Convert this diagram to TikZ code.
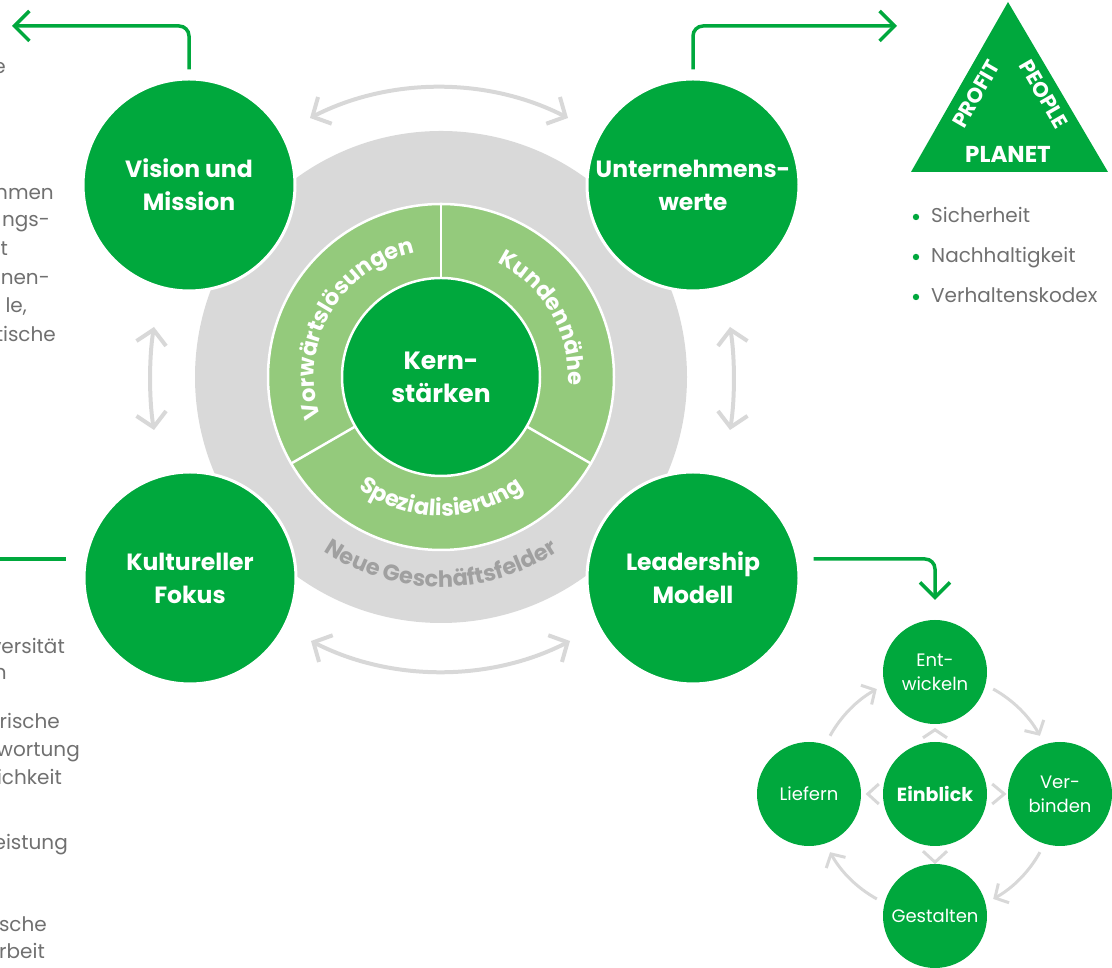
\documentclass[tikz,border=0pt]{standalone}
\usepackage{fontspec}
\setmainfont{Poppins}
\usetikzlibrary{arrows.meta,decorations.text}
\definecolor{kgreen}{RGB}{0,168,61}
\definecolor{klight}{RGB}{148,202,124}
\definecolor{kring}{RGB}{217,217,217}
\definecolor{karrow}{RGB}{216,216,216}
\definecolor{kgraytext}{RGB}{160,160,160}
\definecolor{kbody}{RGB}{112,112,112}
\begin{document}
\begin{tikzpicture}[x=1pt,y=1pt,
  bigcircle/.style={circle, fill=kgreen, draw=white, line width=3pt, minimum size=212pt, inner sep=0pt, text=white, font=\fontsize{23.5}{33}\selectfont\bfseries, align=center},
  smallcircle/.style={circle, fill=kgreen, minimum size=104pt, inner sep=0pt, text=white, font=\fontsize{18}{24}\selectfont, align=center},
  grayarrow/.style={draw=karrow, line width=4pt, {Straight Barb[length=14pt,width=30pt]}-{Straight Barb[length=14pt,width=30pt]}},
  greenarrow/.style={draw=kgreen, line width=3.5pt, rounded corners=10pt, -{Straight Barb[length=15pt,width=30pt]}},
  greenline/.style={draw=kgreen, line width=3.5pt},
  cyclearrow/.style={draw=karrow, line width=3pt, -{Straight Barb[length=10pt,width=22pt]}},
  chev/.style={draw=karrow, line width=3pt},
  bodytext/.style={text=kbody, font=\fontsize{20}{28}\selectfont, inner sep=0pt, anchor=base east},
  bullettext/.style={text=kbody, font=\fontsize{20}{28}\selectfont, inner sep=0pt, anchor=base west},
  tritext/.style={text=white, font=\fontsize{23}{26}\selectfont\bfseries, inner sep=0pt},
  ringtext/.style={decorate, decoration={text along path, text align=center, text color=#1}},
]
\useasboundingbox (0,0) rectangle (1112,968);

% central rings
\coordinate (c) at (441,591);
\fill[kring] (c) circle[radius=246];
\filldraw[fill=klight, draw=white, line width=2.5pt] (c) circle[radius=173];
\foreach \a in {90,210,330} \draw[white, line width=2.5pt] (c) ++(\a:98) -- ++(\a:76);
\node[circle, fill=kgreen, draw=white, line width=2.5pt, minimum size=198pt, inner sep=0pt, text=white, font=\fontsize{25}{33}\selectfont\bfseries, align=center] (kern) at (c) {Kern-\\stärken};

\path[shift={(441,591)}, ringtext=white, decoration={text={|\fontsize{22.5}{26}\selectfont\bfseries|Vorwärtslösungen}}] (210:127) arc[start angle=210, end angle=90, radius=127];
\path[shift={(441,591)}, ringtext=white, decoration={text={|\fontsize{22.5}{26}\selectfont\bfseries|Kundennähe}}] (90:127) arc[start angle=90, end angle=-30, radius=127];
\path[shift={(441,591)}, ringtext=white, decoration={text={|\fontsize{22.5}{26}\selectfont\bfseries|Spezialisierung}}] (210:139) arc[start angle=210, end angle=330, radius=139];
\path[shift={(441,591)}, ringtext=kgraytext, decoration={text={|\fontsize{22.5}{26}\selectfont\bfseries|Neue Geschäftsfelder}}] (200:210) arc[start angle=200, end angle=340, radius=210];

% big circles
\node[bigcircle] (vision) at (189,783) {Vision und\\Mission};
\node[bigcircle] (werte) at (693,783) {Unternehmens-\\werte};
\node[bigcircle] (kultur) at (190,390) {Kultureller\\Fokus};
\node[bigcircle] (lead) at (693,390) {Leadership\\Modell};

% gray double arrows
\coordinate (ta) at (310,850); \coordinate (tb) at (568,850);
\coordinate (ba) at (311,327); \coordinate (bb) at (570,327);
\coordinate (la) at (154,641); \coordinate (lb) at (154,538);
\coordinate (ra) at (730,641); \coordinate (rb) at (730,538);
\draw[grayarrow] (ta) .. controls +(80,41) and +(-80,41) .. (tb);
\draw[grayarrow] (ba) .. controls +(80,-41) and +(-80,-41) .. (bb);
\draw[grayarrow] (la) .. controls +(-5,-30) and +(-5,30) .. (lb);
\draw[grayarrow] (ra) .. controls +(5,-30) and +(5,30) .. (rb);

% green connectors
\coordinate (vend) at (12,942);
\coordinate (wend) at (897,942);
\coordinate (kend) at (0,409);
\draw[greenarrow] ([yshift=8pt]vision.north) |- (vend);
\draw[greenarrow] ([yshift=8pt]werte.north) |- (wend);
\draw[greenline] ([shift={(-17pt,19pt)}]kultur.west) -- (kend);

% leadership cycle
\node[smallcircle] (ent) at (935,296) {Ent-\\wickeln};
\node[smallcircle, font=\fontsize{19}{24}\selectfont\bfseries] (ein) at (935,174) {Einblick};
\node[smallcircle] (lief) at (809,174) {Liefern};
\node[smallcircle] (verb) at (1060,174) {Ver-\\binden};
\node[smallcircle] (gest) at (935,52) {Gestalten};

\draw[greenarrow] ([shift={(13pt,19pt)}]lead.east) -| ([yshift=20pt]ent.north);

\draw[cyclearrow] ([shift={(151:120)}]ein.center) arc[start angle=151, end angle=119, radius=120];
\draw[cyclearrow] ([shift={(61:120)}]ein.center) arc[start angle=61, end angle=29, radius=120];
\draw[cyclearrow] ([shift={(-29:120)}]ein.center) arc[start angle=-29, end angle=-61, radius=120];
\draw[cyclearrow] ([shift={(-119:120)}]ein.center) arc[start angle=-119, end angle=-151, radius=120];

\draw[chev] ([shift={(-12pt,4pt)}]ein.north) -- ([shift={(0pt,12pt)}]ein.north) -- ([shift={(12pt,4pt)}]ein.north);
\draw[chev] ([shift={(-12pt,-5pt)}]ein.south) -- ([shift={(0pt,-16pt)}]ein.south) -- ([shift={(12pt,-5pt)}]ein.south);
\draw[chev] ([shift={(-4pt,10pt)}]ein.west) -- ([shift={(-15pt,0pt)}]ein.west) -- ([shift={(-4pt,-10pt)}]ein.west);
\draw[chev] ([shift={(5pt,10pt)}]ein.east) -- ([shift={(17pt,0pt)}]ein.east) -- ([shift={(5pt,-10pt)}]ein.east);

% triangle
\fill[kgreen] (911,796) -- (1008,966) -- (1108,796) -- cycle;
\node[tritext] (planet) at (1008,814) {PLANET};
\node[tritext, font=\fontsize{21}{24}\selectfont\bfseries, rotate=60] (profit) at (976,874) {PROFIT};
\node[tritext, font=\fontsize{21}{24}\selectfont\bfseries, rotate=-60] (people) at (1044,874) {PEOPLE};

% bullets
\fill[kgreen] (916,751) circle[radius=3.2];
\fill[kgreen] (916,711) circle[radius=3.2];
\fill[kgreen] (916,671) circle[radius=3.2];
\node[bullettext] (b1) at (931,745) {Sicherheit};
\node[bullettext] (b2) at (931,705) {Nachhaltigkeit};
\node[bullettext] (b3) at (931,665) {Verhaltenskodex};

% cut-off left text
\node[bodytext] (l1) at (6,894) {e};
\node[bodytext] (l2) at (54,768) {nmen};
\node[bodytext] (l3) at (50,741) {ngs-};
\node[bodytext] (l4) at (8,712) {t};
\node[bodytext] (l5) at (50,683) {nen-};
\node[bodytext] (l6) at (27,655) {le,};
\node[bodytext] (l7) at (56,626) {tische};
\node[bodytext] (l8) at (65,314) {versität};
\node[bodytext] (l9) at (7,288) {n};
\node[bodytext] (l10) at (60,239) {rische};
\node[bodytext] (l11) at (80,211) {wortung};
\node[bodytext] (l12) at (62,183) {ichkeit};
\node[bodytext] (l13) at (68,118) {eistung};
\node[bodytext] (l14) at (47,36) {sche};
\node[bodytext] (l15) at (45,9) {rbeit};
\end{tikzpicture}
\end{document}
